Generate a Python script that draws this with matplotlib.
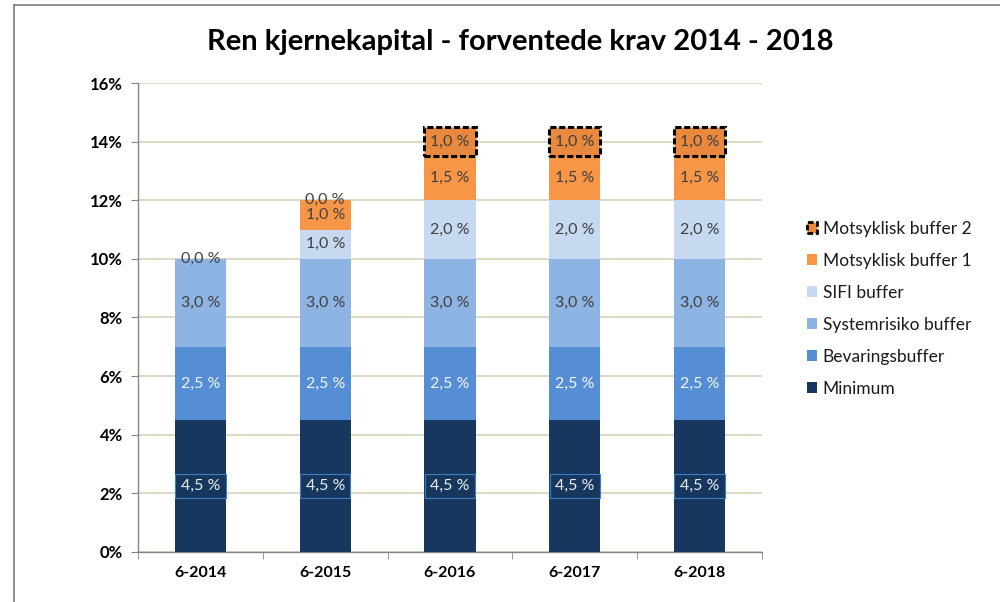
import matplotlib
matplotlib.use("Agg")
import matplotlib.pyplot as plt
from matplotlib.patches import Patch
from matplotlib.lines import Line2D
import numpy as np

categories = ["6-2014", "6-2015", "6-2016", "6-2017", "6-2018"]
series_names = ["Minimum", "Bevaringsbuffer", "Systemrisiko buffer",
                "SIFI buffer", "Motsyklisk buffer 1", "Motsyklisk buffer 2"]
minimum = [4.5, 4.5, 4.5, 4.5, 4.5]
bevaring = [2.5, 2.5, 2.5, 2.5, 2.5]
systemrisiko = [3.0, 3.0, 3.0, 3.0, 3.0]
sifi = [0.0, 1.0, 2.0, 2.0, 2.0]
motsyklisk1 = [0.0, 1.0, 1.5, 1.5, 1.5]
motsyklisk2 = [0.0, 0.0, 1.0, 1.0, 1.0]
y_ticks = [0, 2, 4, 6, 8, 10, 12, 14, 16]

colors = ["#17375E", "#558ED5", "#8EB4E3", "#C6D9F1", "#F79646", "#E8893E"]
label_colors = ["#E8EEF5", "#F2F5FA", "#404040", "#404040", "#404040", "#404040"]

plt.rcParams['font.family'] = ['Lato', 'DejaVu Sans']

fig = plt.figure(figsize=(10, 6.02), dpi=100)
ax = fig.add_axes([0.138, 0.0831, 0.624, 0.779])

data = [minimum, bevaring, systemrisiko, sifi, motsyklisk1, motsyklisk2]
x = np.arange(len(categories))
width = 0.41
bottom = np.zeros(len(categories))
drawn_zero = set()
for i, (vals, name) in enumerate(zip(data, series_names)):
    vals = np.array(vals)
    if i == 5:
        bars = ax.bar(x, vals, width, bottom=bottom, color=colors[i],
                      edgecolor="black", linewidth=2.2,
                      linestyle=(0, (2.0, 0.9)), zorder=3)
        for b, v in zip(bars, vals):
            if v == 0:
                b.set_edgecolor("none")
    else:
        ax.bar(x, vals, width, bottom=bottom, color=colors[i], zorder=3)
    for xi, v, b0 in zip(x, vals, bottom):
        if v == 0:
            key = (xi, round(b0, 3))
            if key in drawn_zero:
                continue
            drawn_zero.add(key)
        txt = ("%.1f %%" % v).replace(".", ",")
        kw = {}
        if i == 0:
            kw["bbox"] = dict(boxstyle="square,pad=0.34", facecolor=colors[0],
                              edgecolor="#3A80C8", linewidth=0.8)
        ax.text(xi, b0 + v / 2, txt, ha="center", va="center",
                fontsize=11.5, color=label_colors[i], zorder=5, **kw)
    bottom = bottom + vals

ax.set_xlim(-0.5, len(categories) - 0.5)
ax.set_ylim(0, 16)
ax.set_yticks(y_ticks)
ax.set_yticklabels(["%d%%" % t for t in y_ticks], fontsize=12, fontweight="bold")
ax.set_xticks(x)
ax.set_xticklabels(categories, fontsize=11.5, fontweight="bold")
ax.set_xticks(np.arange(-0.5, len(categories)), minor=True)
ax.tick_params(axis="x", which="major", length=0, pad=10)
ax.tick_params(axis="x", which="minor", length=5, color="#868686")
ax.tick_params(axis="y", length=5, color="#868686", pad=6)
ax.yaxis.grid(True, color="#DAD7C0", linewidth=1.3, zorder=0)
ax.set_axisbelow(True)
for s in ["top", "right"]:
    ax.spines[s].set_visible(False)
for s in ["left", "bottom"]:
    ax.spines[s].set_color("#868686")
    ax.spines[s].set_linewidth(1.0)

fig.text(0.52, 1 - 42 / 602, "Ren kjernekapital - forventede krav 2014 - 2018",
         ha="center", va="center", fontsize=21, fontweight="bold", color="black")

handles = []
for i in reversed(range(6)):
    if i == 5:
        handles.append(Patch(facecolor=colors[i], edgecolor="black",
                             linewidth=2.0, linestyle=(0, (2, 1))))
    else:
        handles.append(Patch(facecolor=colors[i], edgecolor="none"))
leg = fig.legend(handles, list(reversed(series_names)), loc="upper left",
                 bbox_to_anchor=(0.80, 1 - 214 / 602), frameon=False,
                 fontsize=12.5, handlelength=0.6, handleheight=0.6,
                 handletextpad=0.3, labelspacing=0.92, borderaxespad=0)
for t in leg.get_texts():
    t.set_color("#1a1a1a")

# outer frame lines
fig.add_artist(Line2D([14 / 1000, 1], [1 - 5 / 602, 1 - 5 / 602],
                      transform=fig.transFigure, color="#888888", linewidth=1.3))
fig.add_artist(Line2D([14 / 1000, 14 / 1000], [0, 1 - 5 / 602],
                      transform=fig.transFigure, color="#888888", linewidth=1.3))

fig.savefig("out.png", dpi=100, facecolor="white")
